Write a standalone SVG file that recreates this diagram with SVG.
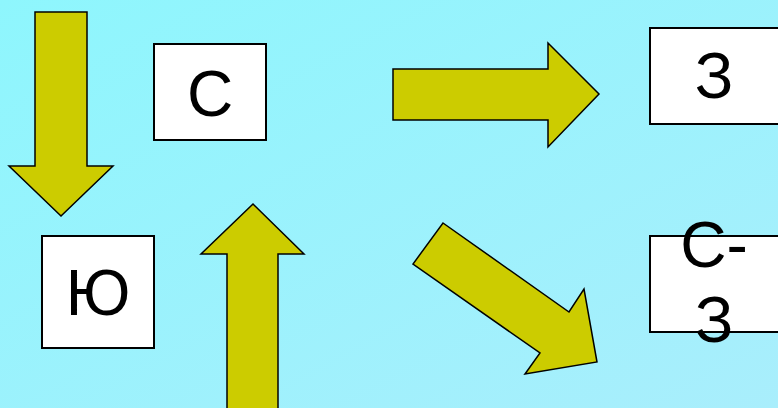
<svg xmlns="http://www.w3.org/2000/svg" width="778" height="408" viewBox="0 0 778 408">
<defs>
<linearGradient id="bg" x1="0" y1="0" x2="1" y2="1">
<stop offset="0" stop-color="#8EF6FD"/>
<stop offset="1" stop-color="#A9EEFC"/>
</linearGradient>
<style>
.arrow{fill:#CCCC00;stroke:#000;stroke-width:1.5;stroke-linejoin:miter}
.box{fill:#fff;stroke:#000;stroke-width:2}
.lbl{font-family:"Liberation Sans",Arial,sans-serif;font-size:64px;fill:#000;text-anchor:middle}
</style>
</defs>
<rect width="778" height="408" fill="url(#bg)"/>
<g id="connectors">
<polygon class="arrow" points="35,12 87,12 87,166 113,166 61,216 9,166 35,166"/>
<polygon class="arrow" points="393,69 548,69 548,43 599,94 548,147 548,120 393,120"/>
<polygon class="arrow" points="443,223 569,312 584,289 597,362 525,374 540,353 413,264"/>
<polygon class="arrow" points="253,204 304,254 278,254 278,410 227,410 227,254 201,254"/>
</g>
<g id="node-s">
<rect class="box" x="154" y="44" width="112" height="96"/>
<text class="lbl" x="210" y="116">С</text>
</g>
<g id="node-z">
<rect class="box" x="650" y="28" width="130" height="96"/>
<text class="lbl" x="714" y="98">З</text>
</g>
<g id="node-yu">
<rect class="box" x="42" y="236" width="112" height="112"/>
<text class="lbl" x="98" y="315">Ю</text>
</g>
<g id="node-sz">
<rect class="box" x="650" y="236" width="130" height="96"/>
<text class="lbl" x="714" y="267">С-</text>
<text class="lbl" x="714" y="342">З</text>
</g>
</svg>
